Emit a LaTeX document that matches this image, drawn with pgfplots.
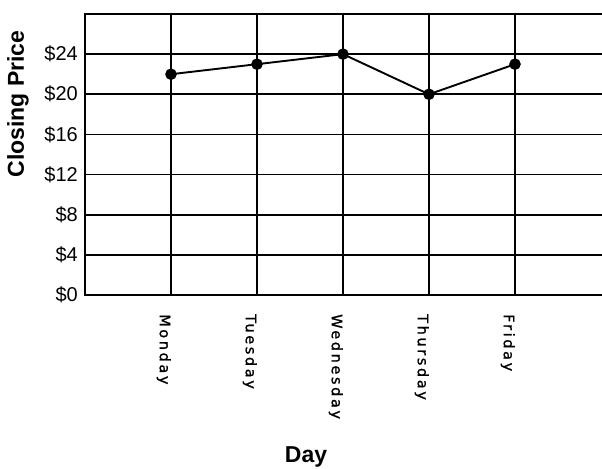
\documentclass[border=0pt]{standalone}
\usepackage{pgfplots}
\pgfplotsset{compat=1.18}
\usepackage{fontspec}
\setmainfont{Liberation Sans}
\newfontfamily\tickfont[LetterSpace=18,FakeBold=1.2]{DejaVu Sans}
\begin{document}
\begin{tikzpicture}
\begin{axis}[
  at={(0,0)}, anchor=south west,
  scale only axis, width=524.6bp, height=281bp,
  xmin=0, xmax=6.1, ymin=0, ymax=28,
  xtick={1,2,3,4,5},
  xticklabels={Monday,Tuesday,Wednesday,Thursday,Friday},
  ytick={0,4,8,12,16,20,24},
  yticklabels={\$0,\$4,\$8,\$12,\$16,\$20,\$24},
  grid=major,
  major grid style={black, line width=1.6bp},
  axis line style={black, line width=1.6bp},
  major tick length=0pt,
  tick style={draw=none},
  xticklabel style={font=\tickfont\fontsize{14.5bp}{16bp}\selectfont, rotate=-90, anchor=north west, inner sep=0pt},
  xticklabel shift=19bp,
  yticklabel style={font=\fontsize{20bp}{22bp}\selectfont, anchor=east, inner sep=0pt, xshift=-7bp},
  xlabel={Day},
  ylabel={Closing Price},
  xlabel style={font=\fontsize{23bp}{26bp}\selectfont\bfseries, at={(axis description cs:0.4213,-0.5765)}, anchor=center},
  ylabel style={font=\fontsize{23bp}{26bp}\selectfont\bfseries, at={(axis description cs:-0.1277,0.6797)}, anchor=center, rotate=0},
]
\addplot[black, line width=1.9bp, mark=*, mark size=4.8bp, mark options={fill=black}] coordinates {(1,22) (2,23) (3,24) (4,20) (5,23)};
\end{axis}
\pgfresetboundingbox
\path[use as bounding box] (-85bp,-174bp) rectangle (517bp,295bp);
\end{tikzpicture}
\end{document}
